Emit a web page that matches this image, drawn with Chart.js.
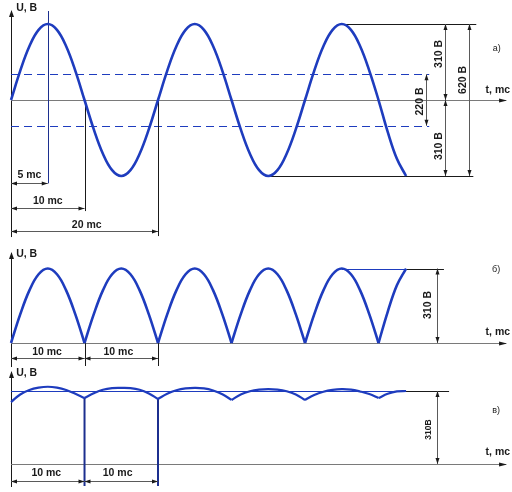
<!DOCTYPE html>
<html>
<head>
<meta charset="utf-8">
<script src="https://cdn.jsdelivr.net/npm/chart.js@4.4.1/dist/chart.umd.min.js"></script>
<style>
  html, body { margin: 0; padding: 0; background: #fff; }
  #wrap { position: relative; width: 512px; height: 492px; }
  canvas { position: absolute; left: 0; }
</style>
</head>
<body>
<div id="wrap">
  <canvas id="panelA" width="512" height="246" style="top:0px"></canvas>
  <canvas id="panelB" width="512" height="122" style="top:246px"></canvas>
  <canvas id="panelC" width="512" height="124" style="top:368px"></canvas>
</div>
<script>
// time inside one half-wave, ms
const halfWaveTimes = [0, 1.25, 2.5, 3.75, 5, 6.25, 7.5, 8.75, 10];
// mains voltage over one half-wave, V
const sineHalfWave = [0, 119, 219, 286, 310, 286, 219, 119, 0];
const halfWaveStarts = [0, 10, 20, 30, 40];
const signsA = [1, -1, 1, -1, 1];

// last piece of each trace (t = 50 ... 53.75 ms)
const tailTimes = [50, 51.25, 52.5, 53.75];
const tailA = [0, -130, -240, -310];
const tailB = [0, 130, 240, 310];

// panel в: filtered voltage, one arc per half-wave, V
const rippleArcs = [
  [263, 295, 314, 324, 328, 324, 314, 298, 280],
  [280, 300, 315, 322, 323, 322, 315, 299, 276],
  [276, 298, 313, 321, 323, 321, 312, 296, 272],
  [272, 295, 309, 316, 318, 316, 309, 295, 272],
  [272, 293, 307, 315, 318, 316, 308, 297, 280]
];
const rippleTail = [280, 298, 308, 310];

const curveBlue = "#1e3cbe";
const darkBlue = "#1c2f8f";
const ink = "#1a1a1a";
const dimGrey = "#5a5a5a";
const axisGrey = "#7a7a7a";
const FONT = "'Liberation Sans', Arial, sans-serif";

// t = 0 sits 11 px from the left edge, 7.35 px per ms
const X_MIN = -1.5;
const X_MAX = 68.16;

function pts(times, values, offset, sign) {
  return times.map((t, i) => ({ x: t + offset, y: values[i] * sign }));
}

// ---- series ----
let sineA = [];
halfWaveStarts.forEach((s, i) => {
  const p = pts(halfWaveTimes, sineHalfWave, s, signsA[i]);
  sineA = sineA.concat(i ? p.slice(1) : p);
});
sineA = sineA.concat(pts(tailTimes, tailA, 0, 1).slice(1));

const archesB = halfWaveStarts.map(s => pts(halfWaveTimes, sineHalfWave, s, 1));
archesB.push(pts(tailTimes, tailB, 0, 1));

const arcsC = rippleArcs.map((arc, i) => pts(halfWaveTimes, arc, halfWaveStarts[i], 1));
arcsC.push(pts(tailTimes, rippleTail, 0, 1));

// ---- drawing helpers ----
function P(chart, t, v) {
  return [chart.scales.x.getPixelForValue(t), chart.scales.y.getPixelForValue(v)];
}

function arrowHead(ctx, x, y, dx, dy, len, hw, color) {
  const l = Math.hypot(dx, dy);
  dx /= l; dy /= l;
  ctx.fillStyle = color;
  ctx.beginPath();
  ctx.moveTo(x, y);
  ctx.lineTo(x - dx * len - dy * hw, y - dy * len + dx * hw);
  ctx.lineTo(x - dx * len + dy * hw, y - dy * len - dx * hw);
  ctx.closePath();
  ctx.fill();
}

function crisp(a, b, w) {
  // snap 1px horizontal / vertical lines to pixel centres
  if (Math.abs(a[0] - b[0]) < 0.01 && w % 2 === 1) { a[0] = b[0] = Math.round(a[0]) + 0.5; }
  if (Math.abs(a[1] - b[1]) < 0.01 && w % 2 === 1) { a[1] = b[1] = Math.round(a[1]) + 0.5; }
}

function seg(ctx, a, b, color, width, dash) {
  ctx.save();
  ctx.strokeStyle = color;
  ctx.lineWidth = width;
  ctx.setLineDash(dash || []);
  ctx.beginPath();
  ctx.moveTo(a[0], a[1]);
  ctx.lineTo(b[0], b[1]);
  ctx.stroke();
  ctx.restore();
}

function drawItem(chart, it) {
  const ctx = chart.ctx;
  const kind = it[0];
  if (kind === "line") {
    const a = P(chart, it[1], it[2]), b = P(chart, it[3], it[4]);
    crisp(a, b, it[6]);
    seg(ctx, a, b, it[5], it[6], it[7]);
  } else if (kind === "dim") {
    const a = P(chart, it[1], it[2]), b = P(chart, it[3], it[4]);
    crisp(a, b, 1);
    seg(ctx, a, b, dimGrey, 1);
    arrowHead(ctx, a[0], a[1], a[0] - b[0], a[1] - b[1], 6, 2, ink);
    arrowHead(ctx, b[0], b[1], b[0] - a[0], b[1] - a[1], 6, 2, ink);
  } else if (kind === "axisY") {
    const a = P(chart, it[1], it[2]), b = P(chart, it[1], it[3]);
    crisp(a, b, 1);
    seg(ctx, a, b, ink, 1);
    arrowHead(ctx, a[0], a[1] - 1, 0, -1, 7, 2.5, ink);
  } else if (kind === "axisX") {
    const a = P(chart, it[2], it[1]), b = P(chart, it[3], it[1]);
    crisp(a, b, 1);
    seg(ctx, a, b, axisGrey, 1);
    arrowHead(ctx, b[0] + 1, b[1], 1, 0, 8, 2, ink);
  }
}

function drawText(chart, tx) {
  const ctx = chart.ctx;
  const [str, t, v, mode] = tx;
  const p = P(chart, t, v);
  ctx.save();
  ctx.fillStyle = ink;
  ctx.textBaseline = "middle";
  ctx.font = mode === "small" ? "9px " + FONT
           : mode === "rotSmall" ? "bold 8.5px " + FONT
           : "bold 10.5px " + FONT;
  if (mode === "rot" || mode === "rotSmall") {
    ctx.translate(p[0], p[1]);
    ctx.rotate(-Math.PI / 2);
    ctx.textAlign = "center";
    ctx.fillText(str, 0, 0);
  } else {
    ctx.textAlign = mode === "left" ? "left" : mode === "right" ? "right" : "center";
    ctx.fillText(str, p[0], p[1]);
  }
  ctx.restore();
}

const sketchPlugin = {
  id: "sketch",
  beforeDatasetsDraw(chart) {
    (chart.$items || []).forEach(it => drawItem(chart, it));
  },
  afterDraw(chart) {
    (chart.$texts || []).forEach(tx => drawText(chart, tx));
  }
};

function makePanel(id, yMin, yMax, series, width, items, texts) {
  const chart = new Chart(document.getElementById(id), {
    type: "line",
    data: {
      datasets: series.map(d => ({
        data: d,
        borderColor: curveBlue,
        borderWidth: width,
        pointRadius: 0,
        tension: 0.4,
        fill: false
      }))
    },
    options: {
      responsive: false,
      animation: false,
      devicePixelRatio: 1,
      layout: { padding: 0 },
      events: [],
      plugins: { legend: { display: false }, tooltip: { enabled: false } },
      scales: {
        x: { type: "linear", min: X_MIN, max: X_MAX, display: false },
        y: { type: "linear", min: yMin, max: yMax, display: false }
      }
    },
    plugins: [sketchPlugin]
  });
  chart.$items = items;
  chart.$texts = texts;
  chart.draw();
  return chart;
}

// ---- panel а) ----
makePanel("panelA", -595.5, 407.9, [sineA], 2.6, [
  ["axisY", 0, 363, -559],
  ["axisX", 0, 0, 67.35],
  ["line", 0, 105, 56.9, 105, curveBlue, 1, [8, 5]],
  ["line", 0, -105, 56.9, -105, curveBlue, 1, [8, 5]],
  ["line", 5, 363, 5, -340, darkBlue, 1],
  ["line", 10, 0, 10, -453, ink, 1],
  ["line", 20, 0, 20, -555, ink, 1],
  ["dim", 0, -340, 5, -340],
  ["dim", 0, -442, 10, -442],
  ["dim", 0, -534, 20, -534],
  ["line", 45, 310, 63.3, 310, ink, 1],
  ["line", 35, -310, 62.9, -310, ink, 1],
  ["dim", 59.05, 310, 59.05, 0],
  ["dim", 59.05, 0, 59.05, -310],
  ["dim", 62.3, 310, 62.3, -310],
  ["dim", 56.46, 105, 56.46, -105]
], [
  ["U, В", 0.7, 375, "left"],
  ["t, mc", 67.9, 39, "right"],
  ["5 mc", 2.5, -308],
  ["10 mc", 5, -412],
  ["20 mc", 10.3, -512],
  ["310 В", 58.2, 188, "rot"],
  ["310 В", 58.2, -188, "rot"],
  ["620 В", 61.56, 82, "rot"],
  ["220 В", 55.65, -6, "rot"],
  ["а)", 66.1, 208, "small"]
]);

// ---- panel б) ----
makePanel("panelB", -104.0, 403.7, archesB, 2.6, [
  ["axisY", 0, 374.5, -100],
  ["axisX", 0, 0, 67.35],
  ["line", 45, 310, 53.75, 310, curveBlue, 1],
  ["line", 53.75, 310, 58.9, 310, ink, 1],
  ["dim", 57.96, 310, 57.96, 0],
  ["line", 10, 0, 10, -95.7, ink, 1],
  ["line", 20, 0, 20, -95.7, ink, 1],
  ["dim", 0, -62.4, 10, -62.4],
  ["dim", 10, -62.4, 20, -62.4]
], [
  ["U, В", 0.7, 370, "left"],
  ["t, mc", 67.9, 43.7, "right"],
  ["310 В", 56.8, 158, "rot"],
  ["б)", 66, 304, "small"],
  ["10 mc", 4.9, -39.5],
  ["10 mc", 14.6, -39.5]
]);

// ---- panel в) ----
makePanel("panelC", -118.9, 407.6, arcsC, 2.2, [
  ["axisY", 0, 390.7, -97.7],
  ["axisX", 0, 0, 67.35],
  ["line", 0, 310, 53.75, 310, curveBlue, 1],
  ["line", 52.4, 310, 59.6, 310, ink, 1],
  ["dim", 57.96, 310, 57.96, 0],
  ["line", 10, 280, 10, -93.4, darkBlue, 2],
  ["line", 20, 276, 20, -93.4, darkBlue, 2],
  ["dim", 0, -72.2, 10, -72.2],
  ["dim", 10, -72.2, 20, -72.2]
], [
  ["U, В", 0.7, 384, "left"],
  ["t, mc", 67.9, 48.8, "right"],
  ["310В", 56.8, 146.5, "rotSmall"],
  ["в)", 66, 229, "small"],
  ["10 mc", 4.8, -40.3],
  ["10 mc", 14.5, -40.3]
]);
</script>
</body>
</html>
